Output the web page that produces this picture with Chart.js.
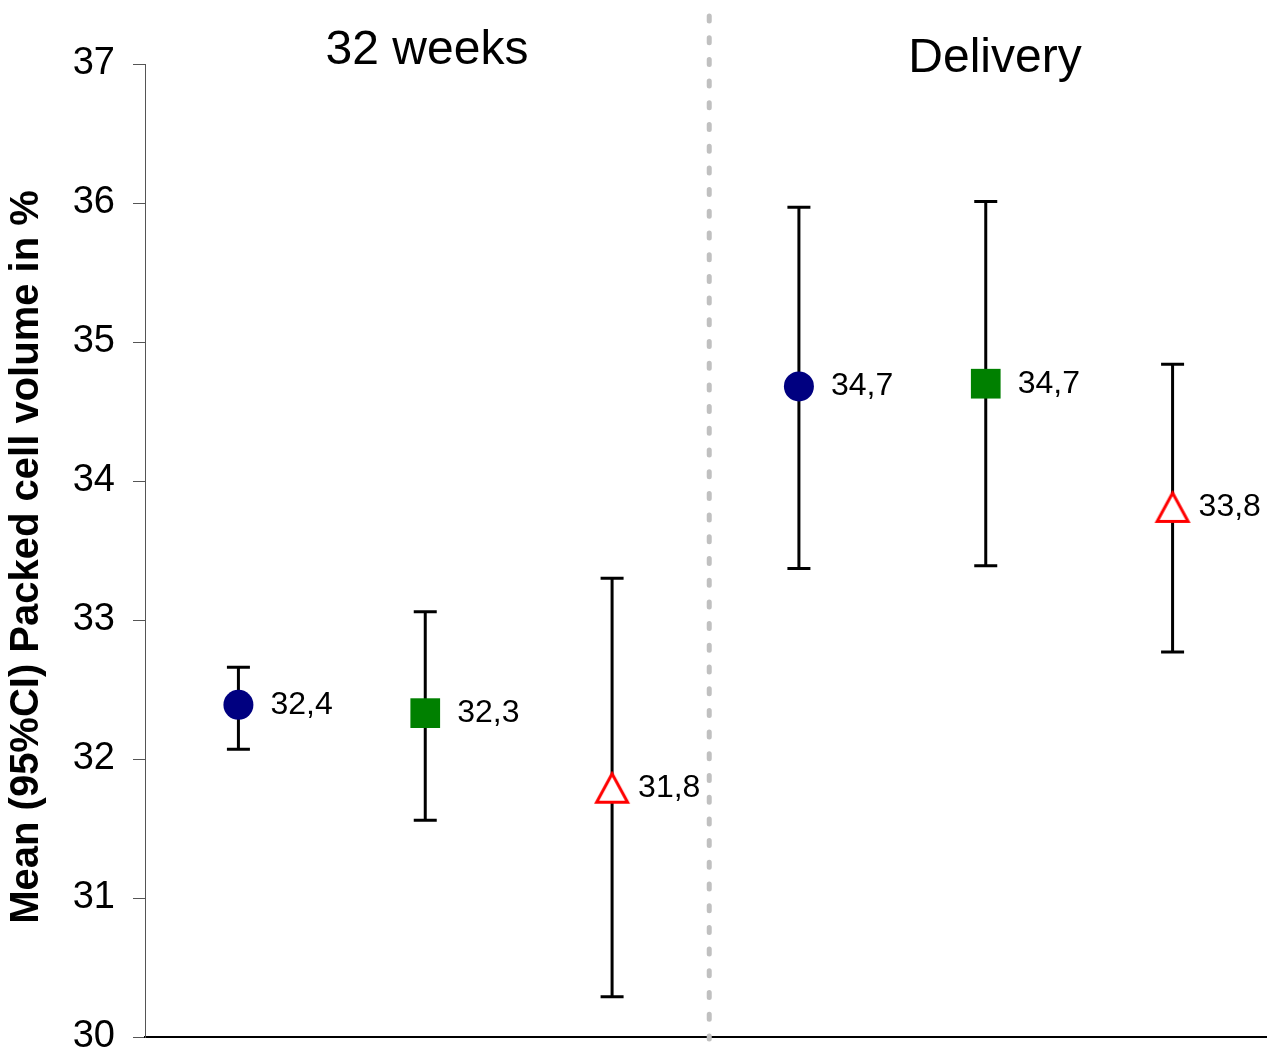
<!DOCTYPE html>
<html>
<head>
<meta charset="utf-8">
<style>
  body { margin: 0; background: #fff; }
  canvas { display: block; }
</style>
<script src="https://cdn.jsdelivr.net/npm/chart.js@4/dist/chart.umd.min.js"></script>
</head>
<body>
<canvas id="pcvChart" width="1268" height="1051"></canvas>
<script>
// time points and the three groups plotted in each
const timepoints = ['32 weeks', 'Delivery'];
const groups = ['Group 1', 'Group 2', 'Group 3'];

// mean packed cell volume (%) per group, one value per time point
const meanG1 = [32.39, 34.68];
const meanG2 = [32.33, 34.70];
const meanG3 = [31.79, 33.81];

// 95% CI bounds
const lowG1 = [32.07, 33.37];
const lowG2 = [31.56, 33.39];
const lowG3 = [30.29, 32.77];
const highG1 = [32.66, 35.97];
const highG2 = [33.06, 36.01];
const highG3 = [33.30, 34.84];

const yTicks = [30, 31, 32, 33, 34, 35, 36, 37];

// outlined red triangle, centred in its own box like the original marker
function makeTriangle() {
  const c = document.createElement('canvas');
  c.width = 38; c.height = 35;
  const g = c.getContext('2d');
  g.beginPath();
  g.moveTo(19, 3);
  g.lineTo(3.5, 31.5);
  g.lineTo(34.5, 31.5);
  g.closePath();
  g.fillStyle = '#fff';
  g.fill();
  g.lineWidth = 3;
  g.strokeStyle = '#ff0000';
  g.stroke();
  return c;
}

const means = [meanG1, meanG2, meanG3];
const lows = [lowG1, lowG2, lowG3];
const highs = [highG1, highG2, highG3];
const styles = [
  { pointStyle: 'circle', radius: 15, color: '#000080', labelGap: 32 },
  { pointStyle: 'rect', radius: 21, color: '#008000', labelGap: 32 },
  { pointStyle: makeTriangle(), radius: 19, color: '#ff0000', labelGap: 26 }
];

// x position of group g at time point t: three slots per time point
const xPos = (t, g) => t * groups.length + g + 0.5;

const datasets = groups.map((name, g) => ({
  label: name,
  data: timepoints.map((tp, t) => ({ x: xPos(t, g), y: means[g][t], lo: lows[g][t], hi: highs[g][t] })),
  pointStyle: styles[g].pointStyle,
  pointRadius: styles[g].radius,
  pointHoverRadius: styles[g].radius,
  backgroundColor: styles[g].color,
  borderColor: styles[g].color,
  borderWidth: 0,
  showLine: false
}));

const fmt = v => v.toFixed(1).replace('.', ',');

const decorations = {
  id: 'decorations',
  beforeDatasetsDraw(chart) {
    const { ctx, chartArea, scales } = chart;
    const x = scales.x, y = scales.y;
    ctx.save();
    // dashed divider between the two time points
    const dx = x.getPixelForValue(3.02);
    ctx.strokeStyle = '#c0c0c0';
    ctx.lineWidth = 5;
    ctx.lineCap = 'round';
    ctx.setLineDash([5, 16.7]);
    ctx.beginPath();
    ctx.moveTo(dx, 16);
    ctx.lineTo(dx, chartArea.bottom + 2);
    ctx.stroke();
    ctx.setLineDash([]);
    ctx.lineCap = 'butt';

    // error bars
    ctx.strokeStyle = '#000';
    ctx.lineWidth = 3;
    chart.data.datasets.forEach(ds => {
      ds.data.forEach(p => {
        const px = x.getPixelForValue(p.x);
        const top = y.getPixelForValue(p.hi);
        const bot = y.getPixelForValue(p.lo);
        ctx.beginPath();
        ctx.moveTo(px, top); ctx.lineTo(px, bot);
        ctx.moveTo(px - 11.5, top); ctx.lineTo(px + 11.5, top);
        ctx.moveTo(px - 11.5, bot); ctx.lineTo(px + 11.5, bot);
        ctx.stroke();
      });
    });
    ctx.restore();
  },
  afterDatasetsDraw(chart) {
    const { ctx, scales } = chart;
    const x = scales.x, y = scales.y;
    ctx.save();
    ctx.fillStyle = '#000';

    // value labels
    ctx.font = '32px "Liberation Sans", Arial, sans-serif';
    ctx.textAlign = 'left';
    ctx.textBaseline = 'middle';
    chart.data.datasets.forEach((ds, g) => {
      ds.data.forEach(p => {
        ctx.fillText(fmt(p.y), x.getPixelForValue(p.x) + styles[g].labelGap, y.getPixelForValue(p.y));
      });
    });

    // time point headings
    ctx.font = '48px "Liberation Sans", Arial, sans-serif';
    ctx.textAlign = 'center';
    ctx.textBaseline = 'alphabetic';
    ctx.fillText(timepoints[0], 427, 64);
    ctx.fillText(timepoints[1], 995, 72);

    // y axis title
    ctx.font = 'bold 40px "Liberation Sans", Arial, sans-serif';
    ctx.textBaseline = 'middle';
    ctx.translate(27, 557);
    ctx.rotate(-Math.PI / 2);
    ctx.fillText('Mean (95%CI) Packed cell volume in %', 0, 0);
    ctx.restore();
  }
};

new Chart(document.getElementById('pcvChart'), {
  type: 'scatter',
  data: { datasets },
  options: {
    responsive: false,
    animation: false,
    layout: { autoPadding: false, padding: { top: 64, right: 2, bottom: 14, left: 0 } },
    plugins: {
      legend: { display: false },
      tooltip: { enabled: false }
    },
    scales: {
      x: {
        type: 'linear',
        min: 0,
        max: 6,
        ticks: { display: false },
        grid: { display: false, drawTicks: false },
        border: { display: true, color: '#000', width: 2 },
        afterFit(scale) { scale.height = 0; }
      },
      y: {
        min: 30,
        max: 37,
        afterBuildTicks(scale) { scale.ticks = yTicks.map(v => ({ value: v })); },
        ticks: {
          color: '#000',
          padding: 18,
          font: { family: '"Liberation Sans", Arial, sans-serif', size: 38 }
        },
        grid: { drawOnChartArea: false, tickLength: 12, color: '#555', lineWidth: 1 },
        border: { display: true, color: '#555', width: 1 },
        afterFit(scale) {
          scale.width = 145;
          scale.paddingTop = 0;
          scale.paddingBottom = 0;
        }
      }
    }
  },
  plugins: [decorations]
});
</script>
</body>
</html>
